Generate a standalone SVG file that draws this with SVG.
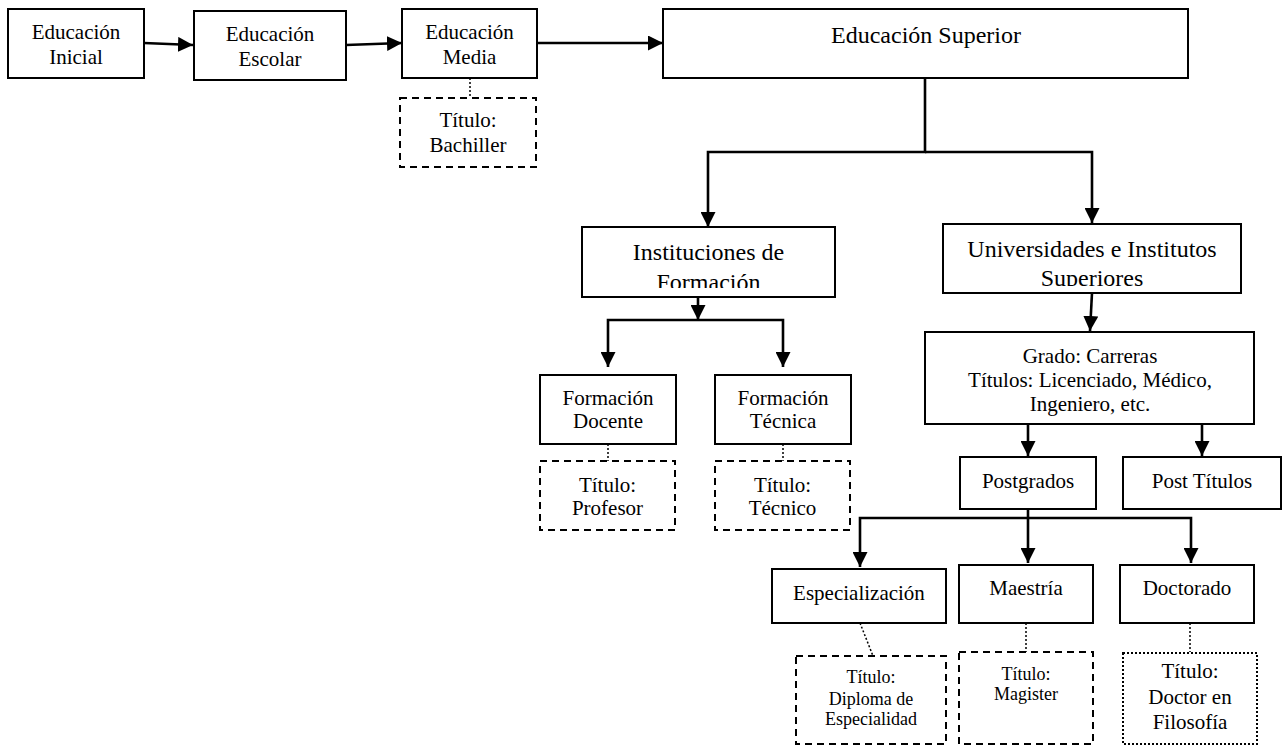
<svg xmlns="http://www.w3.org/2000/svg" width="1286" height="746" viewBox="0 0 1286 746">
<style>
.box{fill:#fff;stroke:#000;stroke-width:2}
.dash{fill:#fff;stroke:#000;stroke-width:2;stroke-dasharray:7,5}
.dot{fill:#fff;stroke:#000;stroke-width:2;stroke-dasharray:2,2}
.con{fill:none;stroke:#000;stroke-width:2.6}
.dl{fill:none;stroke:#000;stroke-width:1.5;stroke-dasharray:2,2}
text{font-family:"Liberation Serif","Times New Roman",serif;fill:#000;text-anchor:middle}
.t21{font-size:21px}
.t24{font-size:24px}
.t18{font-size:18px}
</style>
<defs>
<marker id="arr" viewBox="0 0 10 10" refX="10" refY="5" markerWidth="15" markerHeight="15" markerUnits="userSpaceOnUse" orient="auto">
<path d="M0,0 L10,5 L0,10 z" fill="#000"/>
</marker>
<clipPath id="clipInst"><rect x="582" y="227" width="253" height="61"/></clipPath>
<clipPath id="clipUni"><rect x="943" y="224" width="298" height="62"/></clipPath>
</defs>

<g id="connectors">
<path class="con" d="M144,43 L193,45" marker-end="url(#arr)"/>
<path class="con" d="M346,45 L402,43" marker-end="url(#arr)"/>
<path class="con" d="M537,43 L663,43" marker-end="url(#arr)"/>
<path class="con" d="M925,78 V152 H708 V227" marker-end="url(#arr)"/>
<path class="con" d="M925,152 H1092 V223" marker-end="url(#arr)"/>
<path class="con" d="M698,297 V320" marker-end="url(#arr)"/>
<path class="con" d="M698,320 H608 V367" marker-end="url(#arr)"/>
<path class="con" d="M698,320 H783 V367" marker-end="url(#arr)"/>
<path class="con" d="M1092,293 L1090,331" marker-end="url(#arr)"/>
<path class="con" d="M1028,424 V456" marker-end="url(#arr)"/>
<path class="con" d="M1202,424 V456" marker-end="url(#arr)"/>
<path class="con" d="M1028,509 V563" marker-end="url(#arr)"/>
<path class="con" d="M1028,518 H860 V567" marker-end="url(#arr)"/>
<path class="con" d="M1028,518 H1191 V563" marker-end="url(#arr)"/>
<path class="dl" d="M470,78 V97"/>
<path class="dl" d="M608,444 V461"/>
<path class="dl" d="M783,444 V461"/>
<path class="dl" d="M860,623 L873,656"/>
<path class="dl" d="M1026,623 V652"/>
<path class="dl" d="M1190,623 V652"/>
</g>

<g id="n-inicial">
<rect class="box" x="8" y="9" width="136" height="69"/>
<text class="t21" x="76" y="39">Educación</text>
<text class="t21" x="76" y="64">Inicial</text>
</g>
<g id="n-escolar">
<rect class="box" x="194" y="11" width="152" height="69"/>
<text class="t21" x="270" y="41">Educación</text>
<text class="t21" x="270" y="66">Escolar</text>
</g>
<g id="n-media">
<rect class="box" x="402" y="9" width="135" height="69"/>
<text class="t21" x="469.5" y="39">Educación</text>
<text class="t21" x="469.5" y="64">Media</text>
</g>
<g id="n-bachiller">
<rect class="dash" x="400" y="98" width="136" height="69"/>
<text class="t21" x="468" y="127">Título:</text>
<text class="t21" x="468" y="152">Bachiller</text>
</g>
<g id="n-superior">
<rect class="box" x="663" y="9" width="525" height="69"/>
<text class="t24" x="926" y="43">Educación Superior</text>
</g>
<g id="n-instituciones">
<rect class="box" x="582" y="227" width="253" height="70"/>
<g clip-path="url(#clipInst)">
<text class="t24" x="708.5" y="260">Instituciones de</text>
<text class="t24" x="708.5" y="290">Formación</text>
</g>
</g>
<g id="n-universidades">
<rect class="box" x="943" y="224" width="298" height="69"/>
<g clip-path="url(#clipUni)">
<text class="t24" x="1092" y="257">Universidades e Institutos</text>
<text class="t24" x="1092" y="286">Superiores</text>
</g>
</g>
<g id="n-docente">
<rect class="box" x="540" y="375" width="136" height="69"/>
<text class="t21" x="608" y="405">Formación</text>
<text class="t21" x="608" y="428">Docente</text>
</g>
<g id="n-tecnica">
<rect class="box" x="715" y="375" width="136" height="69"/>
<text class="t21" x="783" y="405">Formación</text>
<text class="t21" x="783" y="428">Técnica</text>
</g>
<g id="n-profesor">
<rect class="dash" x="540" y="461" width="135" height="69"/>
<text class="t21" x="607.5" y="492">Título:</text>
<text class="t21" x="607.5" y="515">Profesor</text>
</g>
<g id="n-tecnico">
<rect class="dash" x="715" y="461" width="135" height="69"/>
<text class="t21" x="782.5" y="492">Título:</text>
<text class="t21" x="782.5" y="515">Técnico</text>
</g>
<g id="n-grado">
<rect class="box" x="925" y="332" width="329" height="92"/>
<text class="t21" x="1090" y="363">Grado: Carreras</text>
<text class="t21" x="1090" y="387">Títulos: Licenciado, Médico,</text>
<text class="t21" x="1090" y="411">Ingeniero, etc.</text>
</g>
<g id="n-postgrados">
<rect class="box" x="960" y="457" width="136" height="52"/>
<text class="t21" x="1028" y="488">Postgrados</text>
</g>
<g id="n-posttitulos">
<rect class="box" x="1123" y="457" width="158" height="52"/>
<text class="t21" x="1202" y="488">Post Títulos</text>
</g>
<g id="n-especializacion">
<rect class="box" x="772" y="569" width="174" height="54"/>
<text class="t21" x="859" y="600">Especialización</text>
</g>
<g id="n-maestria">
<rect class="box" x="959" y="565" width="134" height="58"/>
<text class="t21" x="1026" y="595">Maestría</text>
</g>
<g id="n-doctorado">
<rect class="box" x="1120" y="565" width="134" height="58"/>
<text class="t21" x="1187" y="595">Doctorado</text>
</g>
<g id="n-diploma">
<rect class="dash" x="796" y="656" width="150" height="88"/>
<text class="t18" x="871" y="683">Título:</text>
<text class="t18" x="871" y="705">Diploma de</text>
<text class="t18" x="871" y="725">Especialidad</text>
</g>
<g id="n-magister">
<rect class="dash" x="959" y="652" width="134" height="92"/>
<text class="t18" x="1026" y="680">Título:</text>
<text class="t18" x="1026" y="700">Magister</text>
</g>
<g id="n-doctor">
<rect class="dot" x="1123" y="653" width="134" height="91"/>
<text class="t21" x="1190" y="678">Título:</text>
<text class="t21" x="1190" y="704">Doctor en</text>
<text class="t21" x="1190" y="729">Filosofía</text>
</g>
</svg>
